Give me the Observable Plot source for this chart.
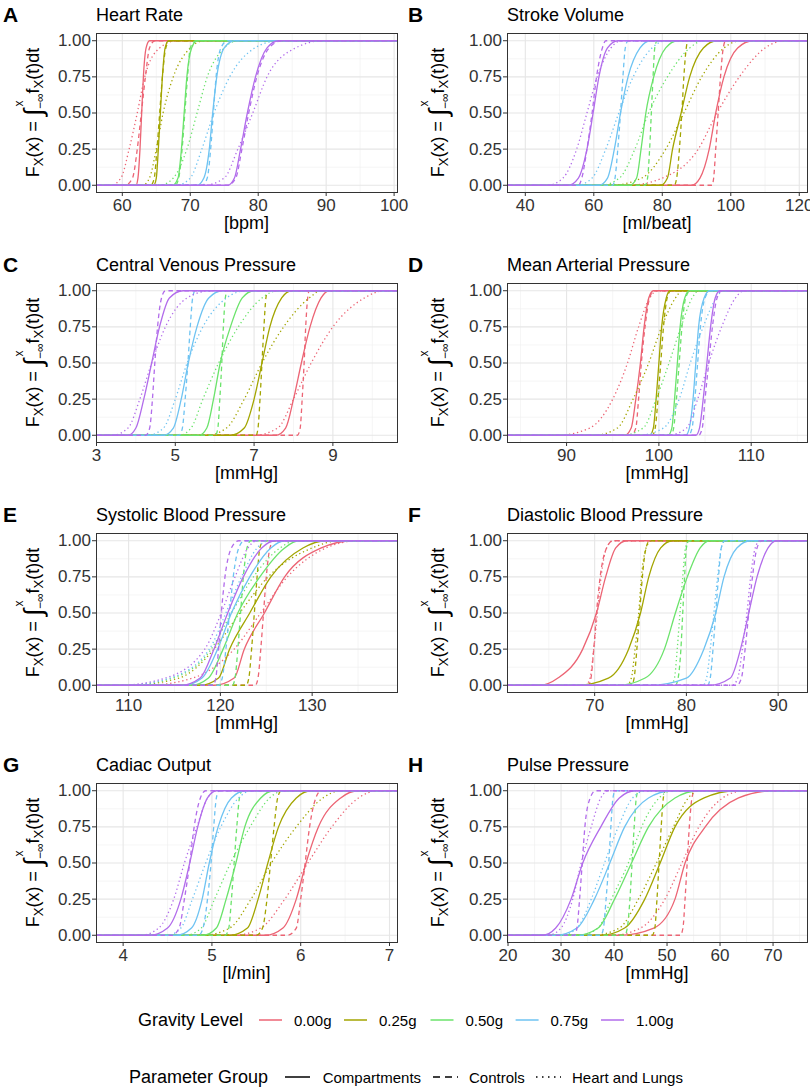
<!DOCTYPE html>
<html><head><meta charset="utf-8">
<script src="https://cdn.jsdelivr.net/npm/d3@7"></script>
<script src="https://cdn.jsdelivr.net/npm/@observablehq/plot@0.6"></script>
<style>
body{margin:0;background:#fff;}
#root{position:relative;width:810px;height:1092px;background:#fff;font-family:"Liberation Sans",Arial,Helvetica,sans-serif;}
.cell{position:absolute;width:405px;height:250px;}
.cell svg{overflow:visible;}
#legend{position:absolute;left:0;top:1000px;}
</style></head><body><div id="root"></div>
<script>
// ---- categories ----
const probs = [0, 0.05, 0.25, 0.5, 0.75, 0.95, 1];
const gravityLevels = ["0.00g", "0.25g", "0.50g", "0.75g", "1.00g"];
const paramGroups = ["Compartments", "Controls", "Heart and Lungs"];

// ---- panel metadata ----
const panelLetters = ["A", "B", "C", "D", "E", "F", "G", "H"];
const panelTitles = ["Heart Rate", "Stroke Volume", "Central Venous Pressure", "Mean Arterial Pressure",
  "Systolic Blood Pressure", "Diastolic Blood Pressure", "Cadiac Output", "Pulse Pressure"];
const panelUnits = ["[bpm]", "[ml/beat]", "[mmHg]", "[mmHg]", "[mmHg]", "[mmHg]", "[l/min]", "[mmHg]"];
const xDomains = [[56.2, 100.5], [34.8, 122.4], [3.0, 10.64], [83.6, 116.1],
  [106.5, 139.3], [60.5, 93.2], [3.70, 7.09], [19.9, 76.5]];
const xMajorTicks = [[60, 70, 80, 90, 100], [40, 60, 80, 100, 120], [3, 5, 7, 9], [90, 100, 110],
  [110, 120, 130], [70, 80, 90], [4, 5, 6, 7], [20, 30, 40, 50, 60, 70]];
const xMinorTicks = [[65, 75, 85, 95], [50, 70, 90, 110], [4, 6, 8, 10], [85, 95, 105, 115],
  [115, 125, 135], [65, 75, 85], [4.5, 5.5, 6.5], [25, 35, 45, 55, 65, 75]];
const yMajorTicks = [0, 0.25, 0.5, 0.75, 1];
const yMinorTicks = [0.125, 0.375, 0.625, 0.875];

// ---- series: x value at each cumulative probability in `probs`, per gravity level ----
const heartRate = {
  "Compartments": [[62.0, 62.3, 62.6, 62.85, 63.1, 63.5, 64.0], [64.6, 65.0, 65.3, 65.6, 65.9, 66.3, 66.8],
    [67.4, 68.2, 68.7, 69.1, 69.5, 70.2, 71.0], [71.0, 72.0, 72.8, 73.3, 73.9, 75.0, 76.5],
    [75.5, 76.5, 77.4, 78.4, 79.6, 81.3, 83.0]],
  "Controls": [[60.4, 61.5, 62.2, 62.8, 63.4, 64.0, 64.8], [64.2, 64.7, 65.1, 65.5, 65.9, 66.4, 67.0],
    [67.8, 68.3, 68.8, 69.2, 69.6, 70.0, 70.8], [71.8, 72.5, 73.0, 73.4, 73.8, 74.5, 75.5],
    [75.5, 76.7, 77.6, 78.6, 79.8, 81.6, 83.5]],
  "Heart and Lungs": [[58.3, 59.8, 61.0, 62.2, 63.3, 65.5, 68.0], [63.0, 64.0, 65.0, 66.0, 67.5, 70.0, 72.0],
    [65.5, 67.5, 69.5, 71.0, 72.5, 75.0, 77.0], [68.0, 70.0, 71.7, 73.5, 75.8, 79.5, 83.0],
    [72.0, 75.0, 77.0, 79.2, 81.3, 85.5, 89.5]]
};
const strokeVolume = {
  "Compartments": [[88.5, 91.0, 93.7, 95.6, 98.0, 102.0, 106.5], [79.5, 81.5, 83.0, 85.5, 88.0, 92.0, 96.0],
    [70.5, 72.5, 73.8, 75.2, 77.5, 81.0, 84.5], [61.5, 64.0, 66.0, 67.8, 70.0, 73.5, 76.5],
    [52.5, 55.5, 58.0, 59.8, 61.5, 64.0, 67.0]],
  "Controls": [[94.5, 95.0, 95.6, 96.3, 97.0, 97.8, 98.5], [83.5, 84.2, 85.0, 85.7, 86.3, 87.0, 87.5],
    [75.0, 75.7, 76.3, 76.8, 77.3, 77.8, 78.5], [65.5, 66.2, 67.0, 67.8, 68.5, 69.2, 70.0],
    [55.5, 56.5, 58.0, 59.5, 60.8, 62.5, 63.5]],
  "Heart and Lungs": [[70.0, 80.0, 90.5, 96.0, 102.5, 110.0, 116.0], [65.0, 74.0, 81.0, 86.3, 91.5, 98.0, 103.0],
    [62.0, 67.5, 72.0, 76.0, 81.5, 88.0, 92.0], [55.0, 59.5, 63.5, 67.3, 71.5, 77.0, 81.0],
    [46.5, 51.0, 55.0, 58.0, 61.0, 65.0, 68.0]]
};
const centralVenousPressure = {
  "Compartments": [[7.55, 7.8, 8.0, 8.2, 8.42, 8.7, 8.9], [6.4, 6.75, 7.0, 7.2, 7.4, 7.7, 7.95],
    [5.6, 5.8, 5.97, 6.14, 6.4, 6.7, 7.0], [4.7, 4.95, 5.15, 5.33, 5.55, 5.85, 6.2],
    [3.8, 4.0, 4.2, 4.4, 4.6, 4.85, 5.2]],
  "Controls": [[8.1, 8.17, 8.22, 8.27, 8.31, 8.36, 8.4], [7.05, 7.1, 7.15, 7.2, 7.25, 7.3, 7.35],
    [6.02, 6.08, 6.13, 6.18, 6.22, 6.27, 6.32], [5.1, 5.18, 5.25, 5.32, 5.38, 5.44, 5.5],
    [4.25, 4.35, 4.42, 4.48, 4.55, 4.65, 4.75]],
  "Heart and Lungs": [[7.0, 7.6, 8.0, 8.45, 9.0, 9.8, 10.3], [5.8, 6.3, 6.75, 7.2, 7.75, 8.4, 8.7],
    [5.1, 5.4, 5.7, 6.1, 6.6, 7.2, 7.6], [4.3, 4.7, 5.0, 5.3, 5.7, 6.3, 6.8],
    [3.4, 3.8, 4.1, 4.4, 4.75, 5.3, 5.9]]
};
const meanArterialPressure = {
  "Compartments": [[96.3, 97.0, 97.5, 98.0, 98.4, 98.9, 99.4], [99.0, 99.4, 99.7, 100.0, 100.3, 100.8, 101.2],
    [101.0, 101.4, 101.7, 102.0, 102.3, 102.8, 103.3], [102.9, 103.3, 103.7, 104.0, 104.3, 104.9, 105.5],
    [104.0, 104.4, 104.8, 105.2, 105.6, 106.1, 106.6]],
  "Controls": [[97.0, 97.5, 97.8, 98.1, 98.5, 99.0, 99.5], [99.3, 99.6, 99.9, 100.2, 100.5, 100.9, 101.3],
    [101.3, 101.6, 101.9, 102.2, 102.5, 102.9, 103.4], [103.2, 103.6, 103.9, 104.2, 104.5, 105.0, 105.6],
    [104.3, 104.7, 105.0, 105.4, 105.8, 106.3, 106.8]],
  "Heart and Lungs": [[89.0, 92.5, 95.0, 96.6, 97.8, 99.0, 99.8], [93.0, 95.5, 97.2, 98.9, 100.3, 101.8, 102.5],
    [96.0, 98.3, 99.7, 101.1, 102.4, 103.6, 104.3], [97.8, 100.5, 102.2, 103.4, 104.8, 106.2, 107.0],
    [101.0, 103.0, 104.2, 105.4, 106.8, 108.3, 109.2]]
};
const systolicBloodPressure = {
  "Compartments": [[119.3, 121.5, 122.6, 124.8, 127.0, 131.0, 134.5], [117.8, 119.8, 121.0, 123.2, 125.5, 129.0, 131.5],
    [116.8, 118.7, 120.3, 121.9, 124.3, 127.0, 128.5], [116.0, 118.0, 119.7, 121.2, 123.2, 125.5, 127.0],
    [115.7, 117.8, 119.3, 120.8, 122.5, 124.5, 126.0]],
  "Controls": [[123.8, 124.1, 124.4, 124.7, 125.0, 125.4, 125.8], [122.8, 123.1, 123.4, 123.7, 124.0, 124.3, 124.7],
    [121.3, 121.6, 121.9, 122.2, 122.5, 122.9, 123.3], [119.8, 120.2, 120.6, 121.0, 121.4, 122.0, 122.6],
    [119.2, 119.5, 119.8, 120.1, 120.5, 121.2, 122.0]],
  "Heart and Lungs": [[112.0, 117.0, 121.5, 124.4, 127.3, 131.5, 135.0], [110.0, 115.5, 119.3, 122.1, 125.2, 130.0, 133.0],
    [109.8, 114.8, 119.0, 121.2, 123.6, 126.5, 128.2], [109.5, 114.5, 118.8, 120.6, 122.3, 124.0, 125.3],
    [109.0, 114.0, 118.3, 120.1, 121.6, 123.0, 124.0]]
};
const diastolicBloodPressure = {
  "Compartments": [[64.0, 66.0, 68.7, 70.2, 71.2, 72.3, 73.5], [68.0, 71.5, 73.7, 75.0, 75.9, 77.2, 78.5],
    [72.5, 75.5, 77.6, 78.8, 80.1, 81.5, 82.5], [76.0, 80.0, 81.9, 83.2, 84.1, 85.5, 87.0],
    [82.5, 84.8, 85.9, 86.8, 87.7, 88.9, 89.8]],
  "Controls": [[69.3, 69.6, 69.9, 70.2, 70.6, 71.3, 72.0], [74.0, 74.3, 74.6, 74.9, 75.2, 75.6, 76.0],
    [78.8, 79.1, 79.4, 79.6, 79.8, 80.0, 80.3], [82.3, 82.6, 82.9, 83.2, 83.5, 83.8, 84.2],
    [85.5, 86.0, 86.4, 86.8, 87.2, 87.7, 88.2]],
  "Heart and Lungs": [[69.0, 69.5, 69.9, 70.3, 70.7, 71.3, 72.0], [73.5, 74.0, 74.4, 74.8, 75.1, 75.6, 76.2],
    [78.3, 78.7, 79.0, 79.3, 79.6, 79.9, 80.3], [81.8, 82.2, 82.6, 83.0, 83.4, 83.8, 84.2],
    [85.0, 85.6, 86.1, 86.6, 87.0, 87.5, 88.0]]
};
const cardiacOutput = {
  "Compartments": [[5.6, 5.8, 5.95, 6.06, 6.2, 6.45, 6.65], [5.2, 5.4, 5.52, 5.63, 5.75, 5.95, 6.12],
    [4.9, 5.05, 5.16, 5.27, 5.37, 5.55, 5.7], [4.6, 4.77, 4.89, 4.97, 5.07, 5.22, 5.38],
    [4.3, 4.5, 4.65, 4.75, 4.84, 4.95, 5.05]],
  "Controls": [[5.85, 5.95, 6.0, 6.05, 6.1, 6.17, 6.23], [5.5, 5.57, 5.62, 5.66, 5.7, 5.74, 5.78],
    [5.15, 5.19, 5.22, 5.25, 5.28, 5.31, 5.34], [4.85, 4.9, 4.95, 4.99, 5.02, 5.05, 5.08],
    [4.55, 4.63, 4.69, 4.75, 4.8, 4.87, 4.93]],
  "Heart and Lungs": [[5.25, 5.55, 5.82, 6.08, 6.35, 6.65, 6.87], [4.9, 5.2, 5.44, 5.67, 5.95, 6.25, 6.45],
    [4.7, 4.88, 5.03, 5.21, 5.43, 5.65, 5.82], [4.5, 4.65, 4.78, 4.93, 5.1, 5.3, 5.45],
    [4.2, 4.4, 4.57, 4.69, 4.83, 4.95, 5.05]]
};
const pulsePressure = {
  "Compartments": [[41.0, 47.5, 51.5, 53.4, 57.2, 63.5, 70.0], [37.5, 42.0, 45.8, 48.7, 51.5, 57.0, 63.0],
    [33.0, 37.0, 40.1, 43.3, 46.5, 51.5, 56.0], [29.0, 33.0, 36.3, 39.2, 42.0, 46.5, 51.0],
    [26.5, 29.0, 31.9, 34.1, 37.5, 41.0, 44.0]],
  "Controls": [[52.5, 53.0, 53.4, 53.8, 54.2, 54.7, 55.2], [47.2, 47.7, 48.1, 48.5, 48.9, 49.3, 49.7],
    [42.0, 42.5, 43.0, 43.4, 43.8, 44.2, 44.6], [37.5, 38.0, 38.5, 39.0, 39.4, 39.8, 40.2],
    [32.5, 33.0, 33.5, 34.0, 34.5, 35.5, 36.5]],
  "Heart and Lungs": [[39.5, 45.0, 49.6, 52.8, 56.0, 60.5, 64.5], [36.0, 41.0, 44.6, 48.0, 51.2, 54.0, 56.0],
    [33.5, 37.0, 39.5, 42.7, 45.2, 48.5, 51.0], [30.0, 33.0, 35.7, 38.2, 40.8, 43.5, 46.0],
    [27.5, 30.0, 32.2, 33.8, 35.7, 37.5, 39.0]]
};
const panelData = [heartRate, strokeVolume, centralVenousPressure, meanArterialPressure,
  systolicBloodPressure, diastolicBloodPressure, cardiacOutput, pulsePressure];

// ---- styles ----
const gravityColors = ["#EC6474", "#A3A500", "#6BE36B", "#6EC3F2", "#B26CEB"];
const groupDash = {"Compartments": null, "Controls": "4.5,3.5", "Heart and Lungs": "1.3,2.8"};
const FONT = '"Liberation Sans", Arial, Helvetica, sans-serif';

const root = document.getElementById("root");

panelData.forEach((pd, i) => {
  const col = i % 2, row = Math.floor(i / 2);
  const dom = xDomains[i];
  const mL = col ? 102 : 96, mR = col ? 3 : 8, mT = 33, mB = 58, W = 405, H = 250;
  const marks = [
    Plot.ruleX(xMinorTicks[i], {stroke: "#EFEFEF", strokeWidth: 0.6}),
    Plot.ruleY(yMinorTicks, {stroke: "#EFEFEF", strokeWidth: 0.6}),
    Plot.ruleX(xMajorTicks[i], {stroke: "#E6E6E6", strokeWidth: 1.1}),
    Plot.ruleY(yMajorTicks, {stroke: "#E6E6E6", strokeWidth: 1.1})
  ];
  gravityLevels.forEach((gl, gi) => {
    paramGroups.forEach(grp => {
      const q = pd[grp][gi];
      const rows = [{x: dom[0], y: 0, gravity: gl}]
        .concat(q.map((x, k) => ({x, y: probs[k], gravity: gl})))
        .concat([{x: dom[1], y: 1, gravity: gl}]);
      const opts = {x: "x", y: "y", stroke: "gravity", strokeWidth: 1.3, curve: "monotone-x",
        strokeLinecap: "butt", strokeLinejoin: "round"};
      if (groupDash[grp]) opts.strokeDasharray = groupDash[grp];
      marks.push(Plot.line(rows, opts));
    });
  });
  marks.push(Plot.frame({stroke: "#333", strokeWidth: 1}));

  const svg = Plot.plot({
    width: W, height: H,
    marginLeft: mL, marginRight: mR, marginTop: mT, marginBottom: mB,
    style: {fontSize: "17px", fontFamily: FONT, color: "#333", background: "transparent", overflow: "visible"},
    x: {domain: dom, ticks: xMajorTicks[i], tickSize: 4, tickPadding: 2, label: null, tickFormat: d => String(d)},
    y: {domain: [-0.05, 1.05], ticks: yMajorTicks, tickSize: 4, tickPadding: 1.5, label: null, tickFormat: d => d.toFixed(2)},
    color: {domain: gravityLevels, range: gravityColors},
    marks
  });
  const cell = document.createElement("div");
  cell.className = "cell";
  cell.style.left = (col * 405) + "px";
  cell.style.top = (row * 250) + "px";
  cell.appendChild(svg);
  root.appendChild(cell);

  const s = d3.select(svg);
  const g = s.append("g").attr("font-family", FONT).attr("fill", "#000").attr("text-anchor", "start");
  g.append("text").attr("x", 3).attr("y", 22).attr("text-anchor", "start")
    .attr("font-size", "21px").attr("font-weight", "bold").text(panelLetters[i]);
  g.append("text").attr("x", mL).attr("y", 21).attr("text-anchor", "start")
    .attr("font-size", "18px").text(panelTitles[i]);
  g.append("text").attr("x", mL + (W - mL - mR) / 2).attr("y", 229).attr("text-anchor", "middle")
    .attr("font-size", "18px").text(panelUnits[i]);
  const cy = mT + (H - mT - mB) / 2;
  const t = g.append("text").attr("transform", `translate(39,${cy}) rotate(-90)`)
    .attr("text-anchor", "middle").attr("font-size", "18px");
  t.append("tspan").text("F");
  t.append("tspan").attr("font-size", "13px").attr("dy", 4).text("X");
  t.append("tspan").attr("dy", -4).text("(x) = ");
  t.append("tspan").attr("font-size", "26px").attr("dy", 3).text("∫");
  t.append("tspan").attr("font-size", "12px").attr("dy", 2).text("−∞");
  t.append("tspan").attr("font-size", "12px").attr("dx", -13).attr("dy", -21).text("x");
  t.append("tspan").attr("dx", 7).attr("dy", 16).text("f");
  t.append("tspan").attr("font-size", "13px").attr("dy", 4).text("X");
  t.append("tspan").attr("dy", -4).text("(t)dt");
});

// ---- legend ----
const leg = d3.select(root).append("svg").attr("id", "legend").attr("width", 810).attr("height", 92)
  .attr("font-family", FONT);
const r1 = 20, r2 = 77;
const gravKeyX = [259, 344, 430.5, 515.6, 601];
leg.append("text").attr("x", 138).attr("y", r1 + 6).attr("font-size", "18px").text("Gravity Level");
gravityLevels.forEach((gl, k) => {
  leg.append("line").attr("x1", gravKeyX[k]).attr("x2", gravKeyX[k] + 23).attr("y1", r1).attr("y2", r1)
    .attr("stroke", gravityColors[k]).attr("stroke-width", 1.5);
  leg.append("text").attr("x", gravKeyX[k] + 35).attr("y", r1 + 5.5).attr("font-size", "15px").text(gl);
});
const groupKeyX = [285, 433, 536];
const groupLabelX = [322.7, 469, 572];
leg.append("text").attr("x", 129).attr("y", r2 + 6).attr("font-size", "18px").text("Parameter Group");
paramGroups.forEach((grp, k) => {
  const ln = leg.append("line").attr("x1", groupKeyX[k]).attr("x2", groupKeyX[k] + 25).attr("y1", r2).attr("y2", r2)
    .attr("stroke", "#000").attr("stroke-width", 1.5);
  if (k === 1) ln.attr("stroke-dasharray", "7,5");
  if (k === 2) ln.attr("stroke-dasharray", "1.5,4.5");
  leg.append("text").attr("x", groupLabelX[k]).attr("y", r2 + 5.5).attr("font-size", "15px").text(grp);
});
</script>
</body></html>
